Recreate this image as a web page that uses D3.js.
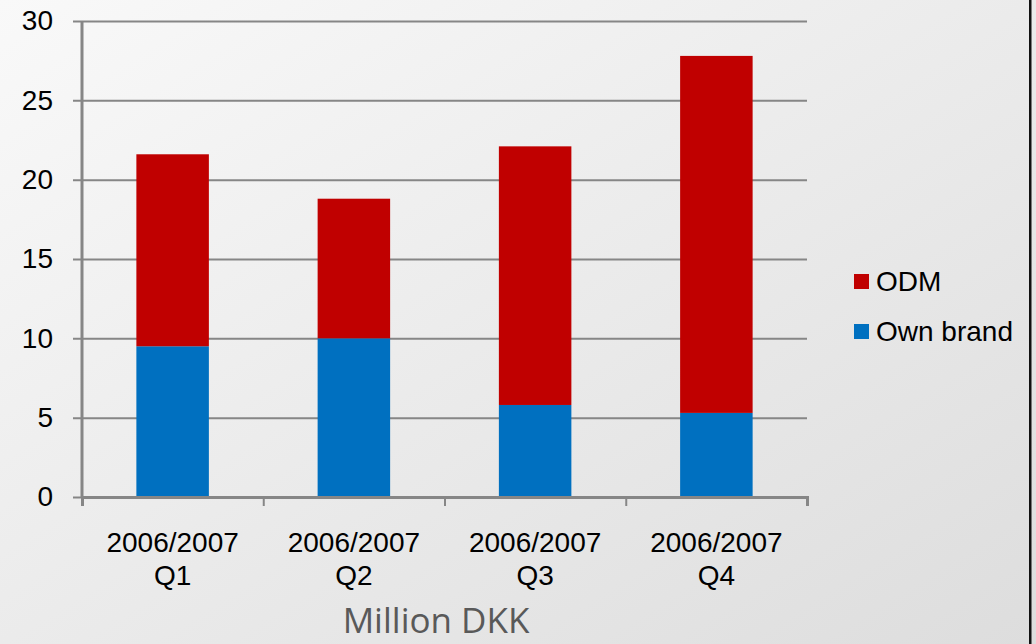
<!DOCTYPE html>
<html lang="en">
<head>
    <meta charset="UTF-8">
    <title>Million DKK - stacked bars</title>
    <style>
        body { margin: 0; }
        svg { display: block; }
        text { fill: #000; }
    </style>
    <script src="https://d3js.org/d3.v7.min.js"></script>
</head>
<body>
    <div class="graph"></div>
<script>
    // data
    const quarters = ['Q1', 'Q2', 'Q3', 'Q4']
    const periods = ['2006/2007', '2006/2007', '2006/2007', '2006/2007']
    const ownBrand = [9.5, 10.0, 5.8, 5.3]
    const odm = [12.1, 8.8, 16.3, 22.5]
    const yTicks = [0, 5, 10, 15, 20, 25, 30]
    const seriesNames = ['ODM', 'Own brand']
    const colors = { 'ODM': '#C00000', 'Own brand': '#0070C0' }

    const W = 1036, H = 644
    const plot = { left: 82, right: 807, top: 21, bottom: 497 }
    const font = '"Liberation Sans", Arial, sans-serif'

    const svg = d3.select('.graph').append('svg')
        .attr('width', W).attr('height', H)

    // slide background
    const defs = svg.append('defs')
    const grad = defs.append('linearGradient').attr('id', 'bg')
        .attr('x1', '0%').attr('y1', '0%').attr('x2', '100%').attr('y2', '100%')
    grad.append('stop').attr('offset', '0%').attr('stop-color', '#f9f9f9')
    grad.append('stop').attr('offset', '100%').attr('stop-color', '#dddddd')
    svg.append('rect').attr('width', W).attr('height', H).attr('fill', 'url(#bg)')
    svg.append('rect').attr('x', 1029).attr('y', 0).attr('width', 2.5).attr('height', H).attr('fill', '#111')

    const table = quarters.map((q, i) => ({ key: q + i, own: ownBrand[i], odm: odm[i] }))

    const x = d3.scaleBand()
        .domain(table.map(d => d.key))
        .range([plot.left, plot.right])
        .padding(0)
    const y = d3.scaleLinear()
        .domain([0, 30])
        .range([plot.bottom, plot.top])

    // gridlines
    const grid = svg.append('g')
        .attr('transform', `translate(${plot.right},0)`)
        .call(d3.axisLeft(y).tickValues(yTicks).tickSize(plot.right - 73).tickFormat(''))
    grid.select('.domain').remove()
    grid.selectAll('line').attr('stroke', '#868686').attr('stroke-width', 2)

    // stacked bars
    const stack = d3.stack().keys(['own', 'odm'])(table)
    const barW = x.bandwidth() * 0.4
    svg.append('g').selectAll('g')
        .data(stack)
        .join('g')
        .attr('fill', s => s.key === 'own' ? colors['Own brand'] : colors['ODM'])
        .selectAll('rect')
        .data(s => s)
        .join('rect')
        .attr('x', d => x(d.data.key) + (x.bandwidth() - barW) / 2)
        .attr('width', barW)
        .attr('y', d => y(d[1]))
        .attr('height', d => y(d[0]) - y(d[1]))

    // y labels
    const yLab = svg.append('g')
        .attr('transform', `translate(${plot.left},0)`)
        .call(d3.axisLeft(y).tickValues(yTicks).tickSize(0).tickPadding(29))
    yLab.select('.domain').remove()
    yLab.selectAll('text').attr('font-size', 28).attr('font-family', font).attr('fill', '#000')

    // axis lines
    svg.append('line')
        .attr('x1', plot.left).attr('x2', plot.left)
        .attr('y1', y(30)).attr('y2', y(0))
        .attr('stroke', '#868686').attr('stroke-width', 3)

    const bounds = d3.scaleLinear().domain([0, quarters.length]).range([plot.left, plot.right])
    const xTickAxis = svg.append('g')
        .attr('transform', `translate(0,${plot.bottom})`)
        .call(d3.axisBottom(bounds).ticks(quarters.length).tickSize(9).tickFormat('').tickSizeOuter(9))
    xTickAxis.select('.domain').attr('stroke', '#868686').attr('stroke-width', 3)
    xTickAxis.selectAll('line').attr('stroke', '#868686').attr('stroke-width', 2)

    // x labels, two lines each
    const xLab = svg.append('g')
        .attr('transform', `translate(0,${plot.bottom})`)
        .call(d3.axisBottom(x).tickSize(0).tickFormat(''))
    xLab.select('.domain').remove()
    xLab.selectAll('.tick').each(function (d, i) {
        const t = d3.select(this).append('text')
            .attr('text-anchor', 'middle')
            .attr('font-size', 28)
            .attr('font-family', font)
            .attr('fill', '#000')
        t.append('tspan').attr('x', 0).attr('y', 55).text(periods[i])
        t.append('tspan').attr('x', 0).attr('y', 88).text(quarters[i])
    })

    // legend
    const legend = svg.append('g').attr('transform', 'translate(854,274)')
    seriesNames.forEach((name, i) => {
        const row = legend.append('g').attr('transform', `translate(0,${i * 50})`)
        row.append('rect').attr('width', 15).attr('height', 15).attr('fill', colors[name])
        row.append('text').attr('x', 22).attr('y', 17)
            .attr('font-size', 28).attr('font-family', font).text(name)
    })

    // axis title
    svg.append('text')
        .attr('x', 436).attr('y', 633)
        .attr('text-anchor', 'middle')
        .style('font-family', '"Open Sans", "Noto Sans", sans-serif')
        .style('font-size', '35px')
        .style('fill', '#595959')
        .text('Million DKK')
</script>
</body>
</html>
